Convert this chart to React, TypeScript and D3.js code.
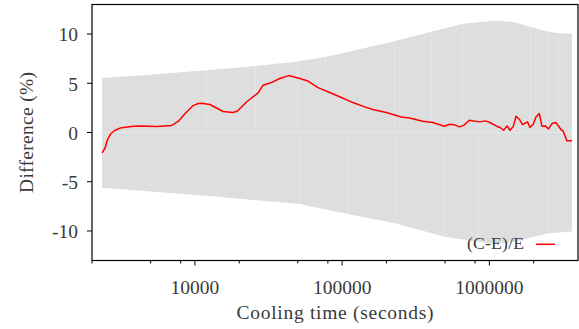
import React from "react";
import * as d3 from "d3";

// Red line: (C-E)/E difference (%) vs cooling time (s)
const lineTimes = [
  2340, 2450, 2540, 2690, 2870, 3100, 3820, 4240, 5500, 6950, 7700, 8550, 9650,
  10530, 11100, 12640, 15560, 18190, 19480, 22410, 26870, 29050, 33110, 37700,
  43390, 50150, 58640, 68550, 82290, 98760, 118400, 142100, 161800, 199400,
  252000, 286800, 353100, 412700, 495400, 535600, 579000, 626000, 669700,
  731900, 855400, 939500, 1000000, 1121000, 1182000, 1250000, 1318000, 1381000,
  1454000, 1517000, 1597000, 1682000, 1818000, 1887000, 1987000, 2073000,
  2183000, 2277000, 2398000, 2523000, 2662000, 2833000, 3063000, 3175000,
  3364000, 3637000,
];
const lineDiff = [
  -2.07, -1.6, -0.78, -0.1, 0.23, 0.45, 0.64, 0.66, 0.6, 0.72, 1.12, 1.9, 2.7,
  2.94, 2.98, 2.84, 2.13, 2.03, 2.19, 3.1, 4.02, 4.8, 5.07, 5.48, 5.78, 5.54,
  5.23, 4.56, 4.06, 3.55, 3.04, 2.6, 2.33, 2.03, 1.58, 1.48, 1.15, 1.01, 0.64,
  0.84, 0.78, 0.57, 0.72, 1.25, 1.08, 1.18, 1.04, 0.64, 0.51, 0.23, 0.67, 0.23,
  0.62, 1.65, 1.35, 0.81, 1.08, 0.51, 0.84, 1.58, 1.93, 0.64, 0.67, 0.37, 0.91,
  1.01, 0.3, 0.13, -0.85, -0.85,
];

// Uncertainty band, upper edge
const upperTimes = [
  2340, 4240, 12000, 25800, 49700, 76900, 227000, 406300, 659200, 1110000,
  1477000, 1900000, 2485000, 2937000, 3637000,
];
const upperDiff = [
  5.54, 5.78, 6.32, 6.75, 7.2, 7.67, 9.26, 10.27, 11.05, 11.36, 11.22, 10.72,
  10.27, 10.07, 10.04,
];

// Uncertainty band, lower edge
const lowerTimes = [
  2340, 14390, 51500, 110700, 233100, 495400, 846000, 1043000, 1381000,
  1887000, 2485000, 3637000,
];
const lowerDiff = [
  -5.62, -6.53, -7.27, -8.29, -9.23, -10.6, -11.1, -11.3, -11.2, -10.7, -10.25,
  -10.05,
];

const yTicks = [-10, -5, 0, 5, 10];
const xMajorTicks = [10000, 100000, 1000000];
const xMinorTicks = [2000, 5000, 8000, 20000, 50000, 80000, 200000, 500000, 800000, 2000000];
const legendLabel = "(C-E)/E";
const xTitle = "Cooling time (seconds)";
const yTitle = "Difference (%)";

const W = 579;
const H = 329;
const L = 92;
const R = 578;
const T = 4.5;
const B = 260.5;
const FONT = "'Liberation Serif', 'DejaVu Serif', serif";
const TEXT = "#3a3a3a";

export default function App() {
  const x = d3.scaleLog().domain([2000, 4000000]).range([L, R]);
  const y = d3.scaleLinear().domain([-13, 13]).range([B, T]);

  const upperSegs: string[] = [];
  for (let i = 0; i < upperTimes.length - 1; i++) {
    const a = d3
      .area<number>()
      .x((j) => x(upperTimes[j]))
      .y0(() => y(0))
      .y1((j) => y(upperDiff[j]));
    upperSegs.push(a([i, i + 1]) as string);
  }
  const lowerSegs: string[] = [];
  for (let i = 0; i < lowerTimes.length - 1; i++) {
    const a = d3
      .area<number>()
      .x((j) => x(lowerTimes[j]))
      .y0(() => y(0))
      .y1((j) => y(lowerDiff[j]));
    lowerSegs.push(a([i, i + 1]) as string);
  }

  const linePath = d3
    .line<number>()
    .x((i) => x(lineTimes[i]))
    .y((i) => y(lineDiff[i]))(lineTimes.map((_, i) => i)) as string;

  const fmt = (v: number) => String(v);

  return (
    <div style={{ position: "absolute", left: 0, top: 0 }}>
      <svg width={W} height={H} style={{ display: "block" }}>
        <rect x={0} y={0} width={W} height={H} fill="#fff" />
        {upperSegs.map((d, i) => (
          <path key={"u" + i} d={d} fill="#dedede" />
        ))}
        {lowerSegs.map((d, i) => (
          <path key={"l" + i} d={d} fill="#dedede" />
        ))}
        <path d={linePath} fill="none" stroke="#ff0000" strokeWidth={1.5} strokeLinejoin="round" />

        {/* legend */}
        <text
          x={524}
          y={249}
          textAnchor="end"
          fontFamily={FONT}
          fontSize={17.5}
          fill={TEXT}
          textLength={57}
          lengthAdjust="spacing"
        >
          {legendLabel}
        </text>
        <line x1={536} x2={555} y1={244.3} y2={244.3} stroke="#ff0000" strokeWidth={1.5} />

        {/* frame */}
        <rect x={L} y={T} width={R - L} height={B - T} fill="none" stroke="#000" strokeWidth={1.2} />

        {/* y ticks */}
        {yTicks.map((v) => (
          <g key={"y" + v}>
            <line x1={L - 5} x2={L} y1={y(v)} y2={y(v)} stroke="#000" strokeWidth={1} />
            <text
              x={78}
              y={y(v) + 7.3}
              textAnchor="end"
              fontFamily={FONT}
              fontSize={19.5}
              fill={TEXT}
            >
              {fmt(v)}
            </text>
          </g>
        ))}

        {/* x ticks */}
        {xMajorTicks.map((v) => (
          <g key={"x" + v}>
            <line x1={x(v)} x2={x(v)} y1={B} y2={B + 5} stroke="#000" strokeWidth={1} />
            <text
              x={x(v)}
              y={294}
              textAnchor="middle"
              fontFamily={FONT}
              fontSize={19.5}
              fill={TEXT}
            >
              {fmt(v)}
            </text>
          </g>
        ))}
        {xMinorTicks.map((v) => (
          <line key={"m" + v} x1={x(v)} x2={x(v)} y1={B} y2={B + 3} stroke="#000" strokeWidth={1} />
        ))}

        {/* axis titles */}
        <text
          x={(L + R) / 2}
          y={319}
          textAnchor="middle"
          fontFamily={FONT}
          fontSize={19.5}
          fill={TEXT}
          textLength={197}
          lengthAdjust="spacing"
        >
          {xTitle}
        </text>
        <text
          transform={`translate(33, ${(T + B) / 2}) rotate(-90)`}
          textAnchor="middle"
          fontFamily={FONT}
          fontSize={19.5}
          fill={TEXT}
          textLength={121}
          lengthAdjust="spacing"
        >
          {yTitle}
        </text>
      </svg>
    </div>
  );
}
